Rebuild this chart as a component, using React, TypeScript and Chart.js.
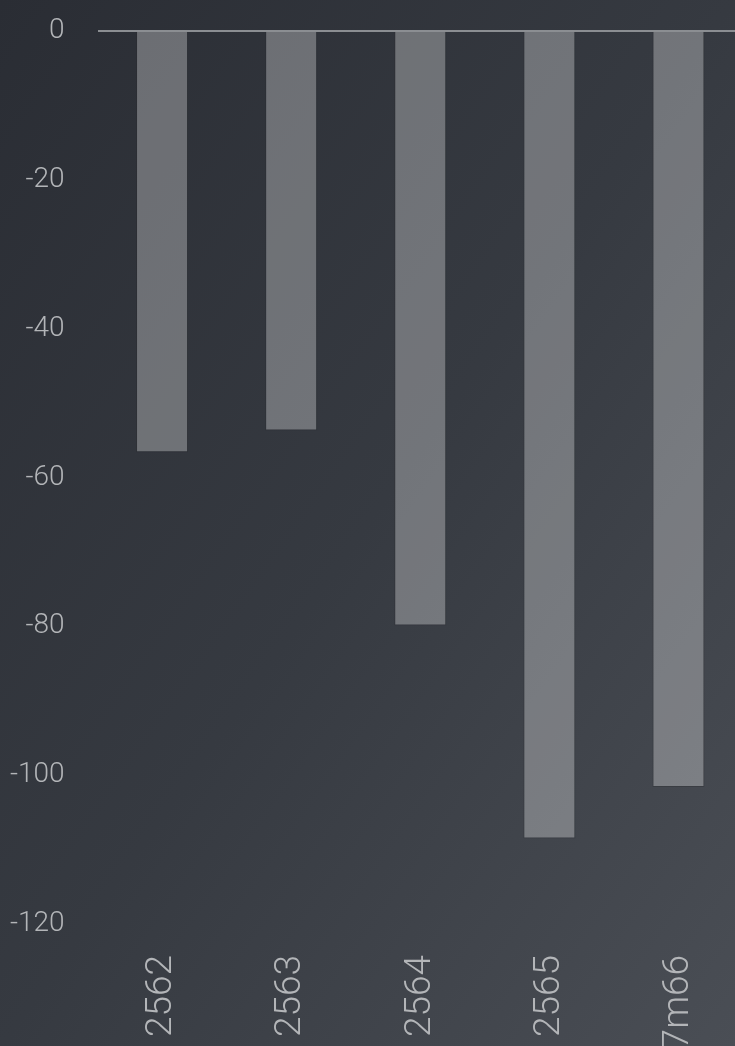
import React, { useEffect, useRef } from "react";
import { Chart, registerables } from "chart.js";

Chart.register(...registerables);

const categories = ["2562", "2563", "2564", "2565", "7m66"];
const values = [-56.6, -53.7, -79.9, -108.5, -101.6];
const yTicks = [0, -20, -40, -60, -80, -100, -120];

export default function App() {
  const ref = useRef<HTMLCanvasElement | null>(null);
  useEffect(() => {
    document.body.style.margin = "0";
    const chart = new Chart(ref.current!, {
      type: "bar",
      data: {
        labels: categories,
        datasets: [
          {
            data: values,
            backgroundColor: "rgba(255,255,255,0.3)",
            borderColor: "rgba(40,42,46,0.35)",
            borderWidth: 1,
            barPercentage: 0.403,
            categoryPercentage: 1,
          },
        ],
      },
      options: {
        animation: false,
        responsive: true,
        maintainAspectRatio: false,
        layout: { padding: { top: 31, left: 0, right: 0, bottom: 0 } },
        plugins: { legend: { display: false }, tooltip: { enabled: false } },
        scales: {
          x: {
            grid: { display: false, drawTicks: false },
            border: { display: false },
            afterFit: (s: any) => {
              s.height = 122;
              s.paddingLeft = 0;
              s.paddingRight = 0;
            },
            ticks: {
              color: "#b3b5b8",
              font: { family: "Roboto", weight: "300", size: 37 },
              minRotation: 90,
              maxRotation: 90,
              padding: 31,
              autoSkip: false,
            },
          },
          y: {
            min: -120,
            max: 0,
            afterFit: (s: any) => {
              s.width = 97.5;
              s.paddingTop = 0;
              s.paddingBottom = 0;
            },
            afterBuildTicks: (s: any) => {
              s.ticks = yTicks.map((v) => ({ value: v }));
            },
            border: { display: false },
            grid: {
              drawTicks: false,
              lineWidth: 2,
              color: (ctx: any) => (ctx.tick && ctx.tick.value === 0 ? "#8b8e92" : "rgba(0,0,0,0)"),
            },
            ticks: {
              color: "#b3b5b8",
              font: { family: "Roboto", weight: "300", size: 28 },
              padding: 33,
              stepSize: 20,
            },
          },
        },
      },
    });
    return () => chart.destroy();
  }, []);
  return (
    <div
      style={{
        position: "fixed",
        left: 0,
        top: 0,
        width: 735,
        height: 1046,
        overflow: "hidden",
        background: "linear-gradient(125deg, #2a2d34 0%, #363a41 50%, #4a4e55 100%)",
      }}
    >
      <div style={{ position: "relative", width: 743, height: 1046 }}>
        <canvas ref={ref} />
      </div>
    </div>
  );
}
